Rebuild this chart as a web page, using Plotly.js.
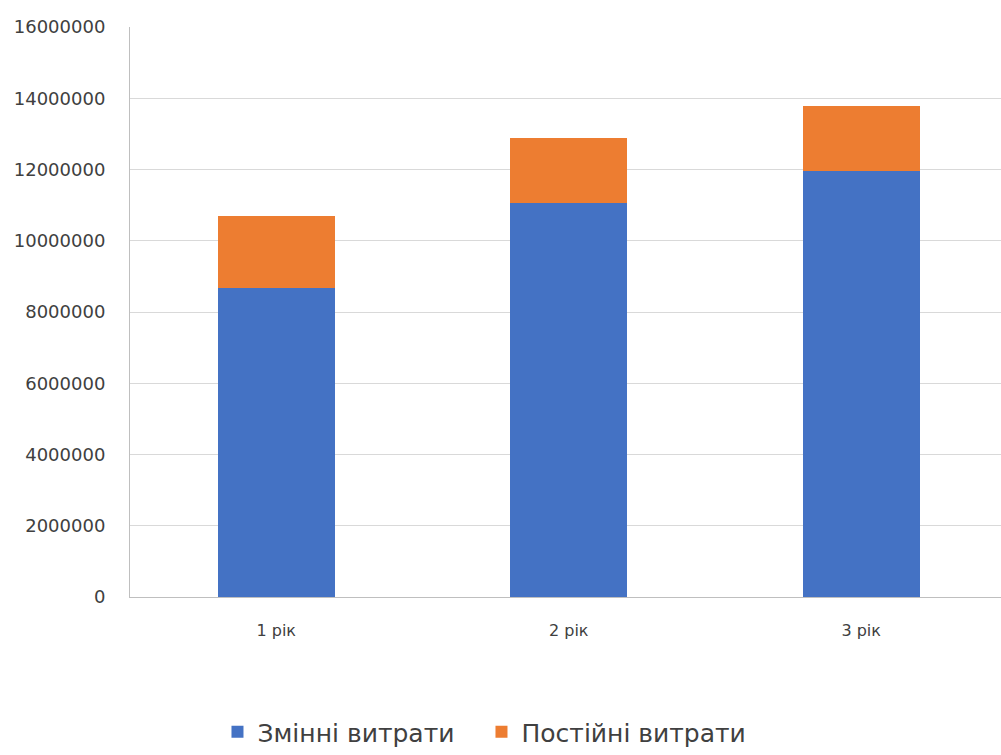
<!DOCTYPE html>
<html>
<head>
<meta charset="utf-8">
<script src="https://cdn.plot.ly/plotly-3.0.1.min.js"></script>
<style>
  html, body { margin: 0; padding: 0; background: #ffffff; }
  #chart { width: 1001px; height: 755px; }
</style>
</head>
<body>
<div id="chart"></div>
<script>
// Cost structure by year
const years = ['1 рік', '2 рік', '3 рік'];
const variableCosts = [8670000, 11070000, 11960000];
const fixedCosts = [2020000, 1810000, 1820000];
const seriesNames = ['Змінні витрати', 'Постійні витрати'];
const yTicks = [0, 2000000, 4000000, 6000000, 8000000, 10000000, 12000000, 14000000, 16000000];

const traces = [
  {
    type: 'bar', name: seriesNames[0], x: years, y: variableCosts,
    marker: { color: '#4472C4' }, hoverinfo: 'y'
  },
  {
    type: 'bar', name: seriesNames[1], x: years, y: fixedCosts,
    marker: { color: '#ED7D31' }, hoverinfo: 'y'
  }
];

const layout = {
  width: 1001, height: 755,
  barmode: 'stack',
  bargap: 0.6,
  paper_bgcolor: '#ffffff',
  plot_bgcolor: '#ffffff',
  margin: { l: 130, r: 0, t: 27, b: 158 },
  font: { family: 'DejaVu Sans, sans-serif', color: '#404040' },
  xaxis: {
    range: [-0.5, 2.478],
    showgrid: false,
    showline: true, linecolor: '#bfbfbf', linewidth: 1,
    ticks: '', tickfont: { size: 16, color: '#404040' },
    ticklabelstandoff: 19
  },
  yaxis: {
    range: [0, 16000000],
    tickvals: yTicks,
    ticktext: yTicks.map(String),
    showgrid: true, gridcolor: '#d9d9d9', gridwidth: 1,
    zeroline: false,
    showline: true, linecolor: '#bfbfbf', linewidth: 1,
    ticks: '', tickfont: { size: 18, color: '#404040' },
    ticklabelstandoff: 20
  },
  showlegend: true,
  legend: {
    orientation: 'h',
    xref: 'container', yref: 'container',
    x: 0.481, xanchor: 'center',
    y: 0.0, yanchor: 'bottom',
    font: { size: 25, color: '#404040' },
    itemwidth: 30,
    entrywidth: 219,
    entrywidthmode: 'pixels',
    tracegroupgap: 0,
    traceorder: 'normal'
  }
};

Plotly.newPlot('chart', traces, layout, { displayModeBar: false, staticPlot: true });
</script>
</body>
</html>
